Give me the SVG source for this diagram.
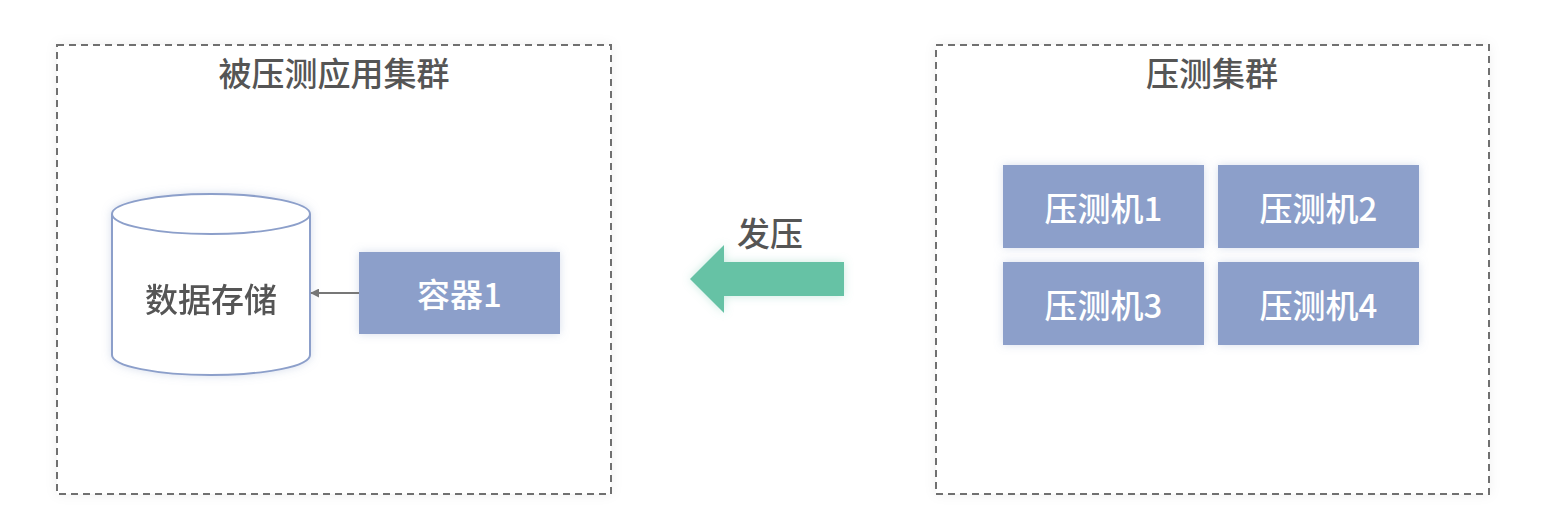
<svg xmlns="http://www.w3.org/2000/svg" width="1548" height="522" viewBox="0 0 1548 522">
<defs>
<style>
.t{font-family:"Noto Sans CJK SC","Noto Sans",sans-serif;font-size:33px;font-weight:500;text-anchor:middle;dominant-baseline:central}
.dark{fill:#555555}
.light{fill:#ffffff}
.frame{fill:#ffffff;stroke:#707070;stroke-width:2;stroke-dasharray:7 5}
.box{fill:#8c9fca}
.cyl{fill:#ffffff;stroke:#8c9fca;stroke-width:2}
</style>
<filter id="sh" x="-20%" y="-20%" width="140%" height="140%">
<feDropShadow dx="0" dy="0" stdDeviation="5" flood-color="#8c9fca" flood-opacity="0.35"/>
</filter>
<filter id="shf" x="-10%" y="-10%" width="120%" height="120%">
<feDropShadow dx="0" dy="0" stdDeviation="6" flood-color="#000000" flood-opacity="0.06"/>
</filter>
<filter id="shg" x="-20%" y="-30%" width="140%" height="160%">
<feDropShadow dx="0" dy="0" stdDeviation="5" flood-color="#66c2a5" flood-opacity="0.35"/>
</filter>
<marker id="ah" viewBox="0 0 10 10" refX="9" refY="5" markerWidth="5" markerHeight="5" orient="auto">
<path d="M0,0 L10,5 L0,10 Z" fill="#777777"/>
</marker>
</defs>
<rect width="1548" height="522" fill="#ffffff"/>
<g id="cluster-app">
<rect class="frame" x="57" y="45" width="554" height="449" filter="url(#shf)"/>
<text class="t dark" x="334" y="72">被压测应用集群</text>
</g>
<g id="cluster-load">
<rect class="frame" x="936" y="45" width="553" height="449" filter="url(#shf)"/>
<text class="t dark" x="1212" y="72">压测集群</text>
</g>
<g id="storage" filter="url(#sh)">
<path class="cyl" d="M112,214 L112,355 A99,20 0 0 0 310,355 L310,214"/>
<ellipse class="cyl" cx="211" cy="214" rx="99" ry="20"/>
<text class="t dark" x="211" y="298">数据存储</text>
</g>
<g id="container1">
<rect class="box" x="359" y="252" width="201" height="82" filter="url(#sh)"/>
<text class="t light" x="459.5" y="293">容器1</text>
</g>
<g id="loader1">
<rect class="box" x="1003" y="165" width="201" height="83" filter="url(#sh)"/>
<text class="t light" x="1103.5" y="207">压测机1</text>
</g>
<g id="loader2">
<rect class="box" x="1218" y="165" width="201" height="83" filter="url(#sh)"/>
<text class="t light" x="1318.5" y="207">压测机2</text>
</g>
<g id="loader3">
<rect class="box" x="1003" y="262" width="201" height="83" filter="url(#sh)"/>
<text class="t light" x="1103.5" y="304">压测机3</text>
</g>
<g id="loader4">
<rect class="box" x="1218" y="262" width="201" height="83" filter="url(#sh)"/>
<text class="t light" x="1318.5" y="304">压测机4</text>
</g>
<g id="connectors">
<line x1="359" y1="293" x2="311" y2="293" stroke="#777777" stroke-width="1.8" marker-end="url(#ah)"/>
<path d="M844,262 L724,262 L724,245 L690,279 L724,313 L724,296 L844,296 Z" fill="#66c2a5" filter="url(#shg)"/>
<text class="t dark" x="770" y="232">发压</text>
</g>
</svg>
